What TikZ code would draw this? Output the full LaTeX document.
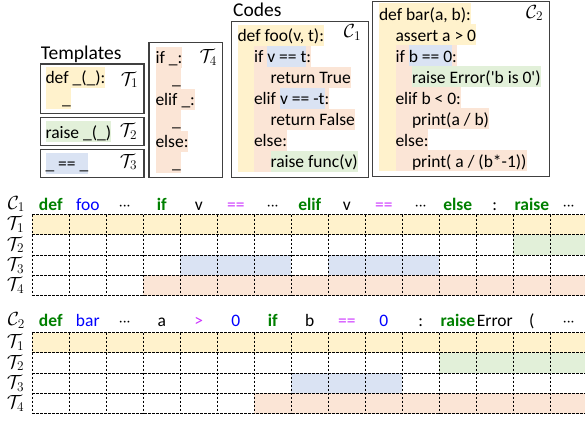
\documentclass[tikz,border=0pt]{standalone}
\usepackage{fix-cm}
\usepackage[no-math]{fontspec}
\setmainfont{Carlito}
\usetikzlibrary{calc}

\definecolor{hY}{HTML}{FFF2CC}
\definecolor{hG}{HTML}{E2F0D9}
\definecolor{hB}{HTML}{DAE3F3}
\definecolor{hO}{HTML}{FBE5D6}
\definecolor{kwgreen}{HTML}{008000}
\definecolor{nmblue}{HTML}{0000FF}
\definecolor{oppurple}{HTML}{CC33FF}

\setlength{\fboxsep}{0pt}
\newcommand{\hlstrut}{\rule[-4pt]{0pt}{21pt}}
\newcommand{\hlseg}[2]{\colorbox{#1}{\hlstrut#2}}
\newcommand{\indsp}{\hspace{16.5pt}}
\newcommand{\kwd}[1]{\textcolor{kwgreen}{\textbf{#1}}}
\newcommand{\nmd}[1]{\textcolor{nmblue}{#1}}
\newcommand{\opd}[1]{\textcolor{oppurple}{#1}}
\newcommand{\dts}{${\cdot}\mkern-1mu{\cdot}\mkern-1mu{\cdot}$}

\tikzset{
  box/.style={draw=black!75, line width=1.1pt},
  codeline/.style={anchor=north west, inner sep=0pt, outer sep=0pt, font=\fontsize{17.5}{21}\selectfont},
  head/.style={anchor=base west, inner sep=0pt, font=\fontsize{19.5}{21}\selectfont},
  tlab/.style={inner sep=0pt, font=\fontsize{19}{21}\selectfont},
  tok/.style={anchor=base, inner sep=0pt, font=\fontsize{17.5}{21}\selectfont},
  cellline/.style={dash pattern=on 2.5pt off 1.5pt, line width=0.8pt},
}

\begin{document}
\begin{tikzpicture}[x=1pt,y=-1pt]
\useasboundingbox (0,0) rectangle (585,421);
% templates
\node[head] (thead) at (40.7,59.3) {Templates};
\draw[box] (40.5,64) rectangle (144,113.3);
\node[codeline] (t1a) at (45.5,66.7) {\hlseg{hY}{def \_(\_):}};
\node[codeline] (t1b) at (t1a.south west) {\hlseg{hY}{\indsp\_}};
\node[tlab] (t1) at (129.5,80) {$\mathcal{T}_1$};
\draw[box] (40.5,117.3) rectangle (144,145.7);
\node[codeline] (t2a) at (45.5,121) {\hlseg{hG}{raise \_(\_)}};
\node[tlab] (t2) at (128.5,131.5) {$\mathcal{T}_2$};
\draw[box] (40.5,149.3) rectangle (144,177.3);
\node[codeline] (t3a) at (45.5,152.5) {\hlseg{hB}{\_ == \_}};
\node[tlab] (t3) at (128.5,162) {$\mathcal{T}_3$};
\draw[box] (149,42.7) rectangle (222.7,177.3);
\node[codeline] (t4a) at (155.5,46.5) {\hlseg{hO}{if \_:}};
\node[codeline] (t4b) at (t4a.south west) {\hlseg{hO}{\indsp\_}};
\node[codeline] (t4c) at (t4b.south west) {\hlseg{hO}{elif \_:}};
\node[codeline] (t4d) at (t4c.south west) {\hlseg{hO}{\indsp\_}};
\node[codeline] (t4e) at (t4d.south west) {\hlseg{hO}{else:}};
\node[codeline] (t4f) at (t4e.south west) {\hlseg{hO}{\indsp\_}};
\node[tlab] (t4) at (208.3,57.5) {$\mathcal{T}_4$};
% codes
\node[head] (chead) at (233,16) {Codes};
\draw[box] (231.7,21.5) rectangle (368.3,177.5);
\node[codeline] (c1a) at (237.5,24.5) {\hlseg{hY}{def foo(v, t):}};
\node[codeline] (c1b) at (c1a.south west) {\hlseg{hY}{\indsp}\hlseg{hO}{if }\hlseg{hB}{v == t}\hlseg{hO}{:}};
\node[codeline] (c1c) at (c1b.south west) {\hlseg{hY}{\indsp}\hlseg{hO}{\indsp return True}};
\node[codeline] (c1d) at (c1c.south west) {\hlseg{hY}{\indsp}\hlseg{hO}{elif }\hlseg{hB}{v == -t}\hlseg{hO}{:}};
\node[codeline] (c1e) at (c1d.south west) {\hlseg{hY}{\indsp}\hlseg{hO}{\indsp return False}};
\node[codeline] (c1f) at (c1e.south west) {\hlseg{hY}{\indsp}\hlseg{hO}{else:}};
\node[codeline] (c1g) at (c1f.south west) {\hlseg{hY}{\indsp}\hlseg{hO}{\indsp}\hlseg{hG}{raise func(v)}};
\node[tlab] (c1) at (352.5,32.5) {$\mathcal{C}_1$};
\draw[box] (372.5,1.5) rectangle (549.3,176.7);
\node[codeline] (c2a) at (379,3) {\hlseg{hY}{def bar(a, b):}};
\node[codeline] (c2b) at (c2a.south west) {\hlseg{hY}{\indsp assert a > 0}};
\node[codeline] (c2c) at (c2b.south west) {\hlseg{hY}{\indsp}\hlseg{hO}{if }\hlseg{hB}{b == 0}\hlseg{hO}{:}};
\node[codeline] (c2d) at (c2c.south west) {\hlseg{hY}{\indsp}\hlseg{hO}{\indsp}\hlseg{hG}{raise Error(\textquotesingle b is 0\textquotesingle)}};
\node[codeline] (c2e) at (c2d.south west) {\hlseg{hY}{\indsp}\hlseg{hO}{elif b < 0:}};
\node[codeline] (c2f) at (c2e.south west) {\hlseg{hY}{\indsp}\hlseg{hO}{\indsp print(a / b)}};
\node[codeline] (c2g) at (c2f.south west) {\hlseg{hY}{\indsp}\hlseg{hO}{else:}};
\node[codeline] (c2h) at (c2g.south west) {\hlseg{hY}{\indsp}\hlseg{hO}{\indsp print( a / (b*-1))}};
\node[tlab] (c2) at (534.5,13) {$\mathcal{C}_2$};
% token grids
\def\XO{32.3}\def\CW{37}\def\RH{20.3}
\begin{scope}[shift={(0,214.5)}]
\foreach \rw/\fa/\fb/\col in {1/1/15/hY, 2/14/15/hG, 3/5/7/hB, 3/9/11/hB, 4/4/15/hO}
  \fill[\col] ({\XO+(\fa-1)*\CW},{(\rw-1)*\RH}) rectangle ({\XO+\fb*\CW},{\rw*\RH});
\foreach \k in {0,...,15} \draw[cellline] ({\XO+\k*\CW},0) -- ({\XO+\k*\CW},{4*\RH});
\foreach \k in {0,...,4} \draw[cellline] (\XO,{\k*\RH}) -- ({\XO+15*\CW},{\k*\RH});
\foreach \tk [count=\k] in {\kwd{def}, \nmd{foo}, \dts, \kwd{if}, v, \opd{==}, \dts, \kwd{elif}, v, \opd{==}, \dts, \kwd{else}, {:}, \kwd{raise}, \dts}
  \node[tok] (g1k\k) at ({\XO+(\k-.5)*\CW},-4.5) {\tk};
\node[tlab] (g1c) at (16.5,-10.5) {$\mathcal{C}_1$};
\foreach \rw in {1,...,4} \node[tlab] (g1t\rw) at (15.5,{(\rw-.5)*\RH}) {$\mathcal{T}_\rw$};
\end{scope}
\begin{scope}[shift={(0,332.5)}]
\foreach \rw/\fa/\fb/\col in {1/1/15/hY, 2/12/15/hG, 3/8/10/hB, 4/7/15/hO}
  \fill[\col] ({\XO+(\fa-1)*\CW},{(\rw-1)*\RH}) rectangle ({\XO+\fb*\CW},{\rw*\RH});
\foreach \k in {0,...,15} \draw[cellline] ({\XO+\k*\CW},0) -- ({\XO+\k*\CW},{4*\RH});
\foreach \k in {0,...,4} \draw[cellline] (\XO,{\k*\RH}) -- ({\XO+15*\CW},{\k*\RH});
\foreach \tk [count=\k] in {\kwd{def}, \nmd{bar}, \dts, a, \opd{>}, \nmd{0}, \kwd{if}, b, \opd{==}, \nmd{0}, {:}, \kwd{raise}, Error, {(}, \dts}
  \node[tok] (g2k\k) at ({\XO+(\k-.5)*\CW},-6) {\tk};
\node[tlab] (g2c) at (16.5,-12) {$\mathcal{C}_2$};
\foreach \rw in {1,...,4} \node[tlab] (g2t\rw) at (15.5,{(\rw-.5)*\RH}) {$\mathcal{T}_\rw$};
\end{scope}
\end{tikzpicture}
\end{document}
